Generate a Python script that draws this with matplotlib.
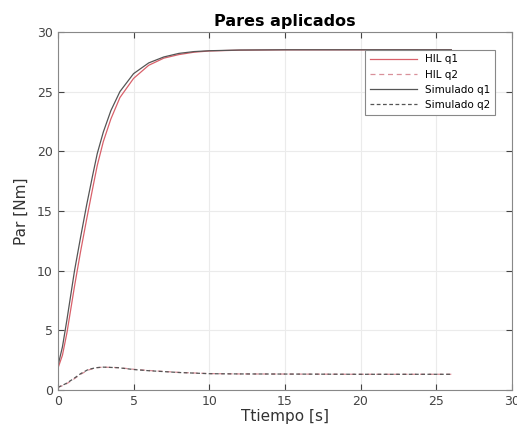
import numpy as np
import matplotlib.pyplot as plt

# q1 torque (rise to steady state)
t_q1 = [0, 0.3, 0.6, 1.1, 1.5, 1.9, 2.3, 2.6, 3.0, 3.5, 4.1, 5, 6, 7, 8, 9, 10, 12, 15, 20, 26]
sim_q1 = [2.0, 3.6, 5.9, 10.0, 12.8, 15.5, 18.0, 19.8, 21.6, 23.4, 25.0, 26.5, 27.4, 27.9,
          28.2, 28.35, 28.42, 28.48, 28.5, 28.5, 28.5]
hil_q1 = [1.8, 2.9, 4.8, 8.7, 11.6, 14.3, 16.9, 18.8, 20.8, 22.7, 24.5, 26.1, 27.2, 27.8,
          28.1, 28.3, 28.4, 28.47, 28.5, 28.5, 28.5]

# q2 torque
t_q2 = [0, 0.5, 1, 1.5, 2, 2.5, 3, 4, 5, 6, 8, 10, 12, 15, 20, 26]
sim_q2 = [0.2, 0.5, 0.9, 1.35, 1.7, 1.85, 1.9, 1.85, 1.7, 1.6, 1.45, 1.35, 1.33, 1.32, 1.3, 1.3]
hil_q2 = [0.2, 0.45, 0.85, 1.3, 1.65, 1.85, 1.9, 1.86, 1.72, 1.62, 1.46, 1.36, 1.33, 1.32, 1.3, 1.3]

fig = plt.figure(figsize=(5.17, 4.37), dpi=100)
ax = fig.add_axes([0.112, 0.108, 0.878, 0.819])

ax.plot(t_q1, hil_q1, color="#d9606a", lw=0.9, label="HIL q1")
ax.plot(t_q2, hil_q2, color="#d9909a", lw=0.9, ls=(0, (4, 3)), label="HIL q2")
ax.plot(t_q1, sim_q1, color="#555555", lw=0.9, label="Simulado q1")
ax.plot(t_q2, sim_q2, color="#555555", lw=0.9, ls=(0, (3, 2)), label="Simulado q2")

ax.set_xlim(0, 30)
ax.set_ylim(0, 30)
ax.set_xticks(np.arange(0, 31, 5))
ax.set_yticks(np.arange(0, 31, 5))
ax.grid(color="#ebebeb", lw=0.8)
ax.set_axisbelow(True)
ax.tick_params(direction="in", top=True, right=True, labelsize=9, colors="#444444", length=4)
for s in ax.spines.values():
    s.set_color("#888888")
    s.set_linewidth(0.8)

ax.set_title("Pares aplicados", fontsize=11.5, fontweight="bold", pad=4)
ax.set_xlabel("Ttiempo [s]", fontsize=11, color="#333333", labelpad=1)
ax.set_ylabel("Par [Nm]", fontsize=11, color="#333333", labelpad=6)

leg = ax.legend(loc="upper right", fontsize=7.5, fancybox=False, framealpha=1,
                edgecolor="#888888", borderpad=0.45, handlelength=4.5,
                labelspacing=0.5, bbox_to_anchor=(0.975, 0.965))
leg.get_frame().set_linewidth(0.8)

plt.savefig("out.png", dpi=100)
